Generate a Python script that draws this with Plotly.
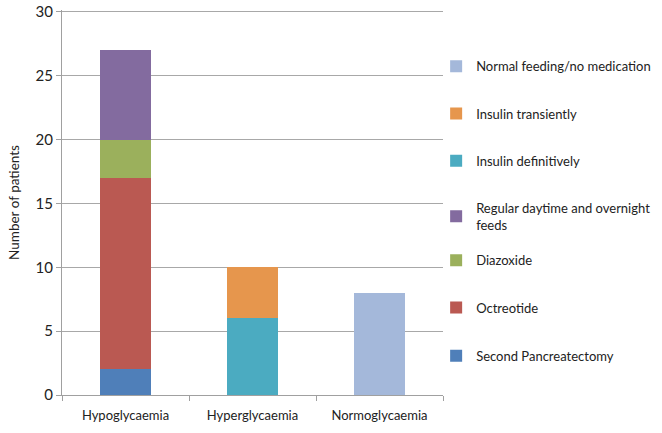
import plotly.graph_objects as go

categories = ["Hypoglycaemia", "Hyperglycaemia", "Normoglycaemia"]
series_names = [
    "Second Pancreatectomy",
    "Octreotide",
    "Diazoxide",
    "Regular daytime and overnight<br>feeds",
    "Insulin definitively",
    "Insulin transiently",
    "Normal feeding/no medication",
]
series_values = [
    [2, 0, 0],
    [15, 0, 0],
    [3, 0, 0],
    [7, 0, 0],
    [0, 6, 0],
    [0, 4, 0],
    [0, 0, 8],
]
colors = ["#4F7FB9", "#BA5952", "#9BB05C", "#836B9F", "#4BABC1", "#E6964D", "#A4B8DA"]
y_ticks = [0, 5, 10, 15, 20, 25, 30]

# vertical positions (paper) of each legend entry, one legend per series
legend_y = [0.141, 0.266, 0.389, 0.525, 0.6475, 0.770, 0.893]

font_family = "Lato, Open Sans, sans-serif"

fig = go.Figure()
layout_legends = {}
for i, (name, vals, c) in enumerate(zip(series_names, series_values, colors)):
    lname = "legend" if i == 0 else f"legend{i+1}"
    fig.add_trace(go.Bar(
        x=categories, y=vals, name=name, marker=dict(color=c, line=dict(width=0)),
        legend=lname,
    ))
    layout_legends[lname] = dict(
        x=0.982, xanchor="left", y=legend_y[i], yanchor="top",
        font=dict(size=13, family=font_family, color="#222222"), itemwidth=30,
        bgcolor="rgba(0,0,0,0)",
    )

fig.update_layout(
    barmode="stack",
    bargap=0.6,
    width=662, height=433,
    margin=dict(l=62, r=219, t=10, b=38, autoexpand=False),
    paper_bgcolor="white", plot_bgcolor="white",
    font=dict(family=font_family, size=13, color="#222222"),
    showlegend=True,
    xaxis=dict(
        showline=True, linecolor="#A0A0A0", linewidth=1,
        ticks="outside", tickson="boundaries", ticklen=5, tickcolor="#A0A0A0",
        tickfont=dict(size=13), showgrid=False, ticklabelstandoff=8,
    ),
    yaxis=dict(
        range=[0, 30.15], tickvals=y_ticks, showline=True, linecolor="#A0A0A0", linewidth=1,
        ticks="outside", ticklen=5, tickcolor="#A0A0A0",
        showgrid=True, gridcolor="#A8A8A8", gridwidth=1,
        tickfont=dict(size=15), zeroline=False,
        title=dict(text="Number of patients", font=dict(size=13.5), standoff=12),
    ),
    **layout_legends,
)

fig.write_html("out.html", post_script="document.body.style.margin='0';",
               config={"displayModeBar": False})
